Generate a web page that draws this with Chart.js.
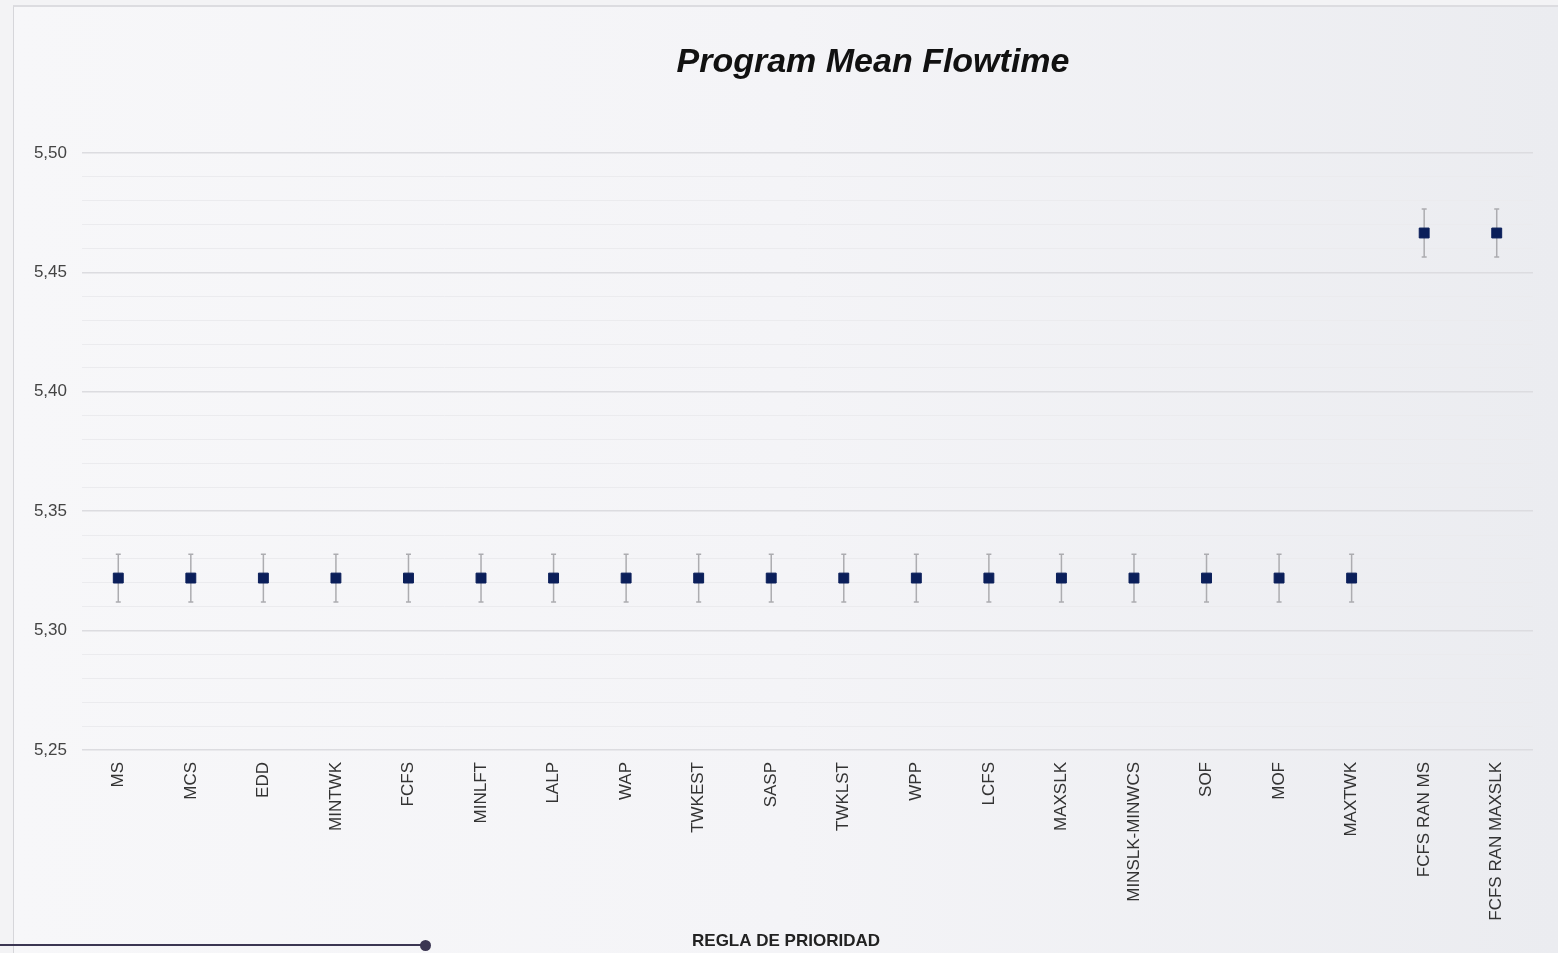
<!DOCTYPE html>
<html>
<head>
<meta charset="utf-8">
<script src="https://cdn.jsdelivr.net/npm/chart.js@4/dist/chart.umd.min.js"></script>
<style>
  html, body { margin: 0; padding: 0; width: 1558px; height: 953px; overflow: hidden; background: #f3f3f5; }
  #panel {
    position: absolute; left: 13px; top: 5px; width: 1545px; height: 948px;
    background: linear-gradient(to right, #f7f7f9 0%, #f4f4f7 50%, #ebecf0 100%);
    border-left: 1px solid #d6d6da; border-top: 2px solid #dcdce0;
    box-sizing: border-box;
  }
  #chart { position: absolute; left: 0; top: 0; }
  #deco { position: absolute; left: 0; top: 944px; width: 425px; height: 2px; background: #3b3652; }
  #decoDot { position: absolute; left: 420px; top: 940px; width: 11px; height: 11px; border-radius: 50%; background: #3b3652; }
</style>
</head>
<body>
<div id="panel"><canvas id="chart" width="1544" height="946"></canvas></div>
<div id="deco"></div><div id="decoDot"></div>
<script>
const categories = ['MS','MCS','EDD','MINTWK','FCFS','MINLFT','LALP','WAP','TWKEST','SASP','TWKLST','WPP','LCFS','MAXSLK','MINSLK-MINWCS','SOF','MOF','MAXTWK','FCFS RAN MS','FCFS RAN MAXSLK'];
const meanValues  = [5.322,5.322,5.322,5.322,5.322,5.322,5.322,5.322,5.322,5.322,5.322,5.322,5.322,5.322,5.322,5.322,5.322,5.322,5.4665,5.4665];
const lowerValues = [5.312,5.312,5.312,5.312,5.312,5.312,5.312,5.312,5.312,5.312,5.312,5.312,5.312,5.312,5.312,5.312,5.312,5.312,5.4565,5.4565];
const upperValues = [5.332,5.332,5.332,5.332,5.332,5.332,5.332,5.332,5.332,5.332,5.332,5.332,5.332,5.332,5.332,5.332,5.332,5.332,5.4765,5.4765];
const yMin = 5.25, yMax = 5.50, yMinorStep = 0.01, yMajorStep = 0.05;
const chartTitle = 'Program Mean Flowtime';
const xTitle = 'REGLA DE PRIORIDAD';

const FONT = "'Liberation Sans', Arial, sans-serif";
const isMajor = v => Math.abs(v / yMajorStep - Math.round(v / yMajorStep)) < 1e-6;

const errorBars = {
  id: 'errorBars',
  beforeDatasetsDraw(chart) {
    const ctx = chart.ctx, x = chart.scales.x, y = chart.scales.y;
    ctx.save();
    ctx.strokeStyle = '#acacb0';
    ctx.lineWidth = 1.5;
    categories.forEach((c, i) => {
      const px = x.getPixelForValue(i);
      const top = y.getPixelForValue(upperValues[i]);
      const bot = y.getPixelForValue(lowerValues[i]);
      ctx.beginPath();
      ctx.moveTo(px, top); ctx.lineTo(px, bot);
      ctx.moveTo(px - 2.5, top); ctx.lineTo(px + 2.5, top);
      ctx.moveTo(px - 2.5, bot); ctx.lineTo(px + 2.5, bot);
      ctx.stroke();
    });
    ctx.restore();
  }
};

const titlePlugin = {
  id: 'customTitle',
  afterDraw(chart) {
    const ctx = chart.ctx;
    ctx.save();
    ctx.fillStyle = '#111111';
    ctx.textAlign = 'center';
    ctx.textBaseline = 'middle';
    ctx.font = "italic bold 34px " + FONT;
    ctx.fillText(chartTitle, 859, 56);
    ctx.fillStyle = '#222222';
    ctx.font = "bold 17px " + FONT;
    ctx.fillText(xTitle, 772, 934);
    ctx.restore();
  }
};

new Chart(document.getElementById('chart'), {
  type: 'line',
  data: {
    labels: categories,
    datasets: [{
      data: meanValues,
      showLine: false,
      pointStyle: 'rect',
      pointRadius: 7,
      pointHoverRadius: 7,
      pointBackgroundColor: '#0b1f5a',
      pointBorderColor: '#0b1f5a',
      pointBorderWidth: 1
    }]
  },
  options: {
    responsive: false,
    animation: false,
    devicePixelRatio: 1,
    layout: { padding: { top: 146, right: 25, bottom: 0, left: 0 } },
    plugins: { legend: { display: false }, tooltip: { enabled: false }, title: { display: false } },
    scales: {
      x: {
        type: 'category',
        offset: true,
        grid: { display: false, drawTicks: false },
        border: { display: false },
        ticks: {
          minRotation: 90, maxRotation: 90, autoSkip: false, padding: 12,
          color: '#333333', font: { family: FONT, size: 17 }
        },
        title: { display: false },
        afterFit: s => { s.height = 203; }
      },
      y: {
        min: yMin, max: yMax,
        border: { display: false },
        grid: {
          drawTicks: false,
          color: c => (c.tick && isMajor(c.tick.value)) ? '#dcdce0' : '#ebebee',
          lineWidth: c => (c.tick && isMajor(c.tick.value)) ? 1.5 : 1
        },
        ticks: {
          stepSize: yMinorStep, autoSkip: false, padding: 15,
          color: '#444444', font: { family: FONT, size: 17 },
          callback: v => isMajor(v) ? v.toFixed(2).replace('.', ',') : ''
        },
        afterFit: s => { s.width = 68; }
      }
    }
  },
  plugins: [errorBars, titlePlugin]
});
</script>
</body>
</html>
